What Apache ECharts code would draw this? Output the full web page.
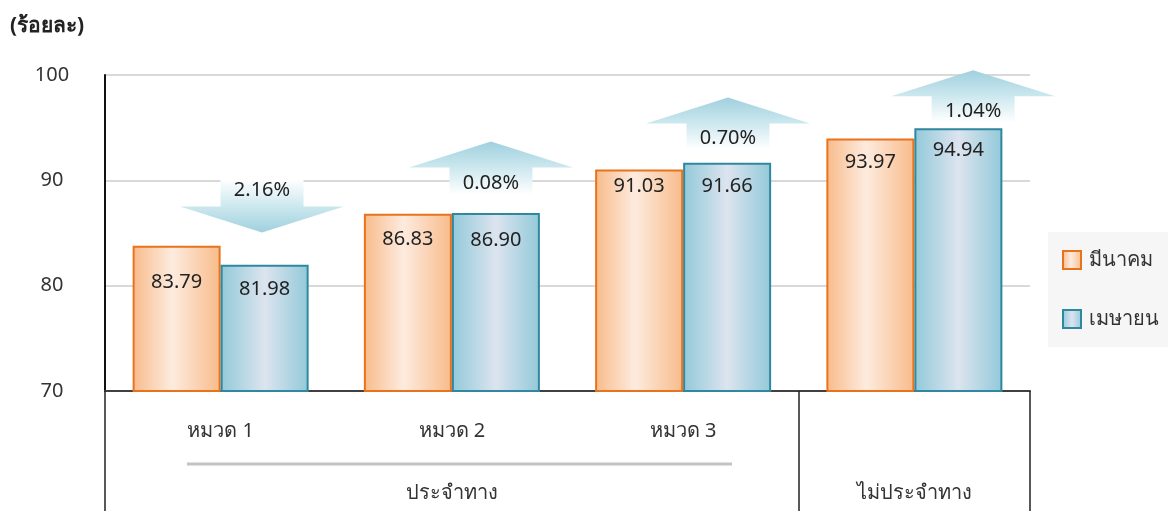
<!DOCTYPE html>
<html>
<head>
<meta charset="utf-8">
<script src="https://cdn.jsdelivr.net/npm/echarts@6/dist/echarts.min.js"></script>
<style>html,body{margin:0;padding:0;background:#fff}#c{width:1168px;height:511px}</style>
</head>
<body>
<div id="c"></div>
<script>
// ---- data ----
const categories = ['หมวด 1', 'หมวด 2', 'หมวด 3', ''];
const groupLabels = ['', 'ประจำทาง', '', 'ไม่ประจำทาง'];
const seriesNames = ['มีนาคม', 'เมษายน'];
const marchValues = [83.79, 86.83, 91.03, 93.97];
const aprilValues = [81.98, 86.90, 91.66, 94.94];
const changeText = ['2.16%', '0.08%', '0.70%', '1.04%'];
// arrow position along the (hidden) numeric category axis, and its base/tip values
const arrowX = [0.179, 1.169, 2.194, 3.254];
const arrowFrom = [90.09, 88.66, 92.93, 95.50];
const arrowTo = [85.05, 93.69, 97.87, 100.44];
const yTicks = [70, 80, 90, 100];

// ---- style ----
const FONT = '"Noto Sans", "DejaVu Sans", sans-serif';
const marchLabelDist = [27, 16, 7, 14];
const aprilLabelDist = [14, 17, 13, 12];

const chart = echarts.init(document.getElementById('c'));

function grad(edge, mid, midPos) {
  return new echarts.graphic.LinearGradient(0, 0, 1, 0, [
    {offset: 0, color: edge}, {offset: midPos, color: mid}, {offset: 1, color: edge}
  ]);
}

function renderArrow(params, api) {
  const x = api.value(0), y0 = api.value(1), y1 = api.value(2);
  const pBase = api.coord([x, y0]);
  const pTip = api.coord([x, y1]);
  const dir = pTip[1] < pBase[1] ? -1 : 1;
  const headH = 26, headW = 164, bodyW = 83;
  const cx = pBase[0];
  const neckY = pTip[1] - dir * headH;
  const pts = [
    [cx - bodyW / 2, pBase[1]], [cx - bodyW / 2, neckY], [cx - headW / 2, neckY],
    [cx, pTip[1]], [cx + headW / 2, neckY], [cx + bodyW / 2, neckY], [cx + bodyW / 2, pBase[1]]
  ];
  const fill = new echarts.graphic.LinearGradient(cx, pBase[1], cx, pTip[1], [
    {offset: 0, color: '#ffffff'},
    {offset: 0.5, color: '#cde8ef'},
    {offset: 1, color: '#9fd0de'}
  ], true);
  return {
    type: 'group',
    children: [
      {type: 'polygon', shape: {points: pts}, style: {fill: fill}},
      {type: 'text', x: cx, y: pBase[1] + dir * 11,
        style: {text: changeText[params.dataIndex], fill: '#222', font: '20px ' + FONT,
          align: 'center', verticalAlign: 'middle'}}
    ]
  };
}

const barLabel = {
  show: true, position: 'insideTop', fontSize: 20, color: '#222', fontFamily: FONT,
  formatter: function (p) { return p.value.toFixed(2); }
};

const option = {
  animation: false,
  backgroundColor: '#ffffff',
  textStyle: {fontFamily: FONT},
  title: {
    text: '(ร้อยละ)', left: 10, top: 16, padding: 0,
    textStyle: {fontSize: 21, fontWeight: 'bold', color: '#222', fontFamily: FONT}
  },
  grid: {left: 105, right: 138, top: 75, bottom: 120, containLabel: false},
  legend: {
    orient: 'vertical', left: 1062, top: 250, padding: 0,
    icon: 'rect', itemWidth: 18, itemHeight: 18, itemGap: 39,
    textStyle: {fontSize: 20, color: '#333', fontFamily: FONT, padding: [0, 0, 0, 3]},
    data: seriesNames
  },
  graphic: [
    {type: 'rect', z: -1, left: 1048, top: 232, shape: {width: 120, height: 115}, style: {fill: '#f6f6f6'}},
    {type: 'line', shape: {x1: 187, y1: 464, x2: 732, y2: 464}, style: {stroke: '#c3c3c3', lineWidth: 3}}
  ],
  xAxis: [
    {
      type: 'category', data: categories, position: 'bottom',
      axisLine: {show: true, onZero: false, lineStyle: {color: '#404040', width: 2}},
      axisTick: {show: false},
      axisLabel: {interval: 0, margin: 30, fontSize: 20, color: '#333', fontFamily: FONT}
    },
    {
      type: 'category', data: groupLabels, position: 'bottom',
      axisLine: {show: false, onZero: false},
      axisTick: {show: true, length: 125, interval: function (i) { return i === 0 || i === 3; },
        lineStyle: {color: '#222', width: 1.5}},
      axisLabel: {interval: 0, margin: 92, fontSize: 20, color: '#333', fontFamily: FONT}
    },
    {type: 'value', min: -0.5, max: 3.5, show: false, position: 'top'}
  ],
  yAxis: {
    type: 'value', min: 70, max: 100, interval: 10,
    axisLine: {show: true, onZero: false, lineStyle: {color: '#111', width: 2}},
    axisTick: {show: false},
    splitLine: {lineStyle: {color: '#d9d9d9', width: 2}},
    axisLabel: {align: 'center', margin: 53, fontSize: 20, color: '#333', fontFamily: FONT,
      customValues: yTicks}
  },
  series: [
    {
      name: seriesNames[0], type: 'bar', xAxisIndex: 0, barWidth: 88, barGap: 0,
      itemStyle: {color: grad('#f8bb8a', '#fdebdf', 0.45), borderColor: '#e8731d', borderWidth: 2},
      label: barLabel,
      data: marchValues.map((v, i) => ({value: v, label: {distance: marchLabelDist[i]}}))
    },
    {
      name: seriesNames[1], type: 'bar', xAxisIndex: 0, barWidth: 88, barGap: 0,
      itemStyle: {color: grad('#92c9d9', '#dce4ef', 0.5), borderColor: '#2f87a0', borderWidth: 2},
      label: barLabel,
      data: aprilValues.map((v, i) => ({value: v, label: {distance: aprilLabelDist[i]}}))
    },
    {
      type: 'custom', xAxisIndex: 2, yAxisIndex: 0, clip: false, z: 5,
      renderItem: renderArrow,
      data: arrowX.map((x, i) => [x, arrowFrom[i], arrowTo[i]])
    }
  ]
};
chart.setOption(option);
</script>
</body>
</html>
